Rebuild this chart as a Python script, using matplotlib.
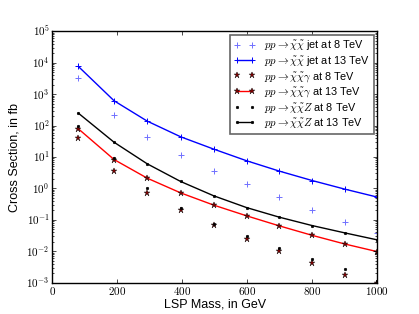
import numpy as np
import matplotlib
matplotlib.use("Agg")
import matplotlib.pyplot as plt
from matplotlib.ticker import FuncFormatter, FixedLocator

plt.style.use('classic')
plt.rcParams['font.family'] = ['Liberation Sans', 'DejaVu Sans']
plt.rcParams['mathtext.fontset'] = 'cm'

mass = [80, 190, 292, 395, 497, 598, 699, 800, 900, 1000]

jet_8 = [3340, 221, 41.9, 11.2, 3.7, 1.37, 0.53, 0.207, 0.088, 0.0375]
jet_13 = [7660, 618, 139, 44, 17.8, 7.6, 3.55, 1.78, 0.95, 0.53]
gam_8 = [41, 3.63, 0.74, 0.207, 0.0706, 0.0253, 0.0102, 0.0041, 0.0018, 0.001]
gam_13 = [79, 8.3, 2.12, 0.72, 0.293, 0.134, 0.064, 0.032, 0.017, 0.0097]
z_8 = [95, 9.3, 1.0, 0.23, 0.074, 0.031, 0.013, 0.0058, 0.0027, 0.0011]
z_13 = [249, 29.5, 6.07, 1.66, 0.58, 0.245, 0.121, 0.0655, 0.0384, 0.023]

fig = plt.figure(figsize=(4.19, 3.14), dpi=100)
ax = fig.add_subplot(111)
fig.subplots_adjust(left=0.125, right=0.9, bottom=0.1, top=0.9)

ax.plot(mass, jet_8, '+', color='#7070ff', ms=4.5, mew=0.7,
        label=r'$pp \to \tilde{\chi}\tilde{\chi}$ jet at 8 TeV')
ax.plot(mass, jet_13, '-+', color='#0000ff', ms=4.5, mew=0.7, lw=1,
        label=r'$pp \to \tilde{\chi}\tilde{\chi}$ jet at 13 TeV')
ax.plot(mass, gam_8, '*', color='#800000', mec='k', mew=0.3, ms=4.5,
        label=r'$pp \to \tilde{\chi}\tilde{\chi}\gamma$ at 8 TeV')
ax.plot(mass, gam_13, '-*', color='#ff0000', mfc='#800000', mec='k', mew=0.3, ms=4.5, lw=1,
        label=r'$pp \to \tilde{\chi}\tilde{\chi}\gamma$ at 13 TeV')
ax.plot(mass, z_8, '.', color='k', ms=3.5,
        label=r'$pp \to \tilde{\chi}\tilde{\chi}Z$ at 8 TeV')
ax.plot(mass, z_13, '.-', color='k', ms=3.5, lw=1,
        label=r'$pp \to \tilde{\chi}\tilde{\chi}Z$ at 13 TeV')

ax.set_yscale('log')
ax.set_xlim(0, 1000)
ax.set_ylim(1e-3, 1e5)
ax.xaxis.set_major_locator(FixedLocator([0, 200, 400, 600, 800, 1000]))
ax.yaxis.set_major_locator(FixedLocator([10.0 ** k for k in range(-3, 6)]))
ax.xaxis.set_major_formatter(FuncFormatter(lambda v, p: r'$\mathrm{%d}$' % v))
ax.yaxis.set_major_formatter(FuncFormatter(lambda v, p: r'$\mathrm{10^{%d}}$' % round(np.log10(v))))
ax.tick_params(labelsize=8, length=3, pad=2)
ax.tick_params(which='minor', length=1.5)
ax.set_xlabel('LSP Mass, in GeV', fontsize=9, labelpad=1)
ax.set_ylabel('Cross Section, in fb', fontsize=9, labelpad=4)

leg = ax.legend(loc='upper right', fontsize=7.8, numpoints=2, handlelength=2.0,
                labelspacing=0.15, borderpad=0.35, handletextpad=0.8,
                borderaxespad=0.3)
leg.get_frame().set_edgecolor('#666666')
leg.get_frame().set_linewidth(1.2)

fig.savefig('out.png', dpi=100)
